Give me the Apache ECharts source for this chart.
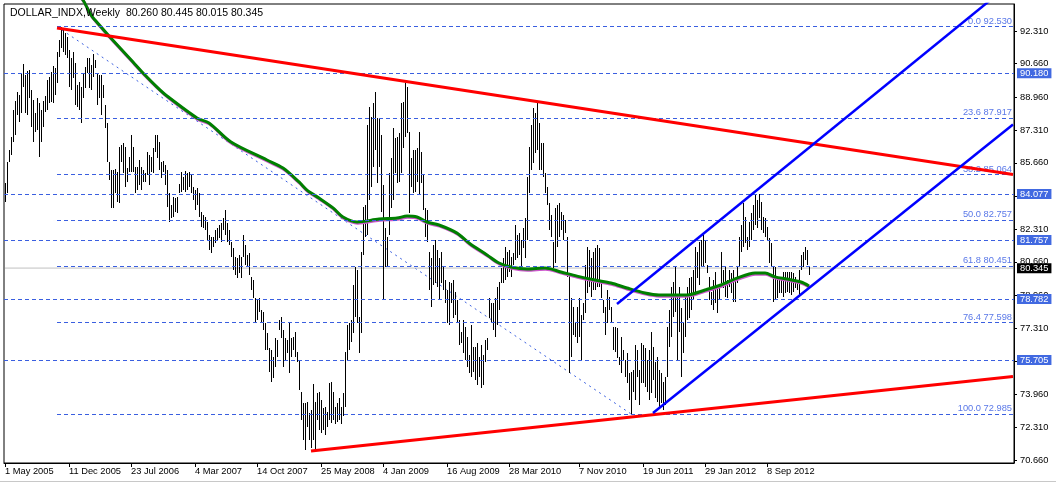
<!DOCTYPE html>
<html><head><meta charset="utf-8">
<script src="https://cdn.jsdelivr.net/npm/echarts@6/dist/echarts.min.js"></script>
<style>html,body{margin:0;padding:0;background:#fff}#c{width:1056px;height:483px}</style>
</head><body><div id="c"></div><script>
// ---- data ----
const symbolName = 'DOLLAR_INDX,Weekly';
const lastOHLC = [80.260, 80.445, 80.015, 80.345];
const dateLabels = ['1 May 2005','11 Dec 2005','23 Jul 2006','4 Mar 2007','14 Oct 2007','25 May 2008','4 Jan 2009','16 Aug 2009','28 Mar 2010','7 Nov 2010','19 Jun 2011','29 Jan 2012','8 Sep 2012'];
const dateLabelBars = [0,32,63,95,126,158,189,221,252,287,319,350,381];
const yTickValues = [92.310,90.660,88.960,87.310,85.660,83.960,82.310,80.660,78.960,77.310,75.660,73.960,72.310,70.660];
const barHigh = [
84.62,85.72,86.30,86.98,88.32,88.78,89.21,89.08,90.12,90.63,
90.09,90.29,90.34,89.33,88.83,88.15,88.91,88.66,88.32,88.78,
89.03,89.84,90.01,90.26,90.54,90.46,91.27,91.86,92.53,92.41,
92.19,92.02,91.35,90.93,91.27,90.68,89.58,89.75,89.50,90.17,
90.51,90.93,90.93,90.59,91.13,90.85,90.17,90.09,90.09,89.58,
88.58,87.65,85.72,85.30,85.30,85.35,85.21,86.47,86.56,86.64,
86.47,85.38,85.97,87.06,86.47,85.46,85.46,85.80,85.46,85.30,
85.13,86.22,86.05,85.97,86.39,87.06,87.06,86.72,85.72,85.77,
85.55,85.30,84.12,83.53,83.95,83.86,83.95,84.57,85.21,84.96,
85.24,85.13,85.21,85.04,84.45,84.29,84.37,84.12,83.19,83.02,
82.94,82.69,82.01,81.93,81.93,82.27,82.35,82.52,82.60,82.86,
83.28,82.60,82.27,81.67,81.34,80.92,80.84,81.00,80.92,82.01,
81.51,81.00,81.09,79.91,79.74,78.82,78.73,78.82,78.23,78.15,
77.56,77.05,76.30,76.21,75.87,76.80,76.71,77.73,77.89,77.22,
76.80,76.71,77.56,76.80,76.88,77.13,76.12,75.70,74.11,73.52,
73.52,73.60,73.02,73.18,74.50,73.60,74.02,74.11,73.69,73.27,
73.35,73.10,74.53,74.61,74.11,73.35,73.52,73.80,73.35,74.02,
76.13,77.47,77.56,77.72,79.49,80.42,80.25,77.89,81.17,83.44,
83.53,87.57,88.49,87.99,88.66,89.25,87.90,87.90,87.06,84.54,
82.35,81.93,85.13,85.88,87.40,86.89,86.98,87.14,88.66,88.74,
89.67,89.50,87.23,85.88,86.30,86.30,86.39,87.23,86.22,85.04,
83.36,83.28,81.17,80.84,81.51,81.76,81.26,80.84,81.17,80.42,
79.74,79.24,79.66,79.57,79.74,79.15,78.73,77.72,77.13,77.72,
77.39,76.88,75.96,77.47,76.38,76.38,76.55,75.87,76.46,75.96,
76.71,76.80,78.82,78.57,78.57,78.82,79.41,79.66,80.33,80.84,
81.43,81.17,81.26,80.92,81.09,82.52,82.01,82.10,81.76,82.35,
82.86,84.96,86.47,87.57,88.41,88.15,88.66,87.65,86.64,86.64,
85.13,84.45,83.61,83.02,81.67,83.36,83.53,83.61,83.19,83.02,
82.77,81.93,80.00,78.82,78.40,77.56,78.40,78.82,77.98,78.57,
80.50,81.43,81.26,80.84,81.17,81.34,81.51,81.34,79.74,78.73,
78.40,79.24,78.90,78.40,77.39,77.39,77.30,75.87,76.88,76.21,
75.70,76.04,75.03,75.12,75.20,76.46,76.21,75.20,76.55,76.46,
76.30,75.70,76.21,77.13,76.38,75.62,75.87,75.20,75.03,74.61,
74.87,77.39,78.23,79.41,79.66,80.42,78.90,79.41,78.31,77.64,
78.90,79.41,79.83,79.91,80.25,81.43,81.17,81.68,81.76,82.01,
81.76,80.50,79.91,79.15,79.74,80.16,79.49,79.49,81.17,80.25,
80.42,79.74,80.25,80.08,80.25,79.74,80.42,81.93,82.52,83.61,
82.94,81.93,82.69,83.11,83.53,84.03,83.78,84.10,83.70,82.94,
82.86,82.44,81.85,81.60,80.42,80.42,79.74,79.74,79.83,80.16,
80.16,80.16,80.16,80.16,80.08,79.91,79.74,80.25,81.00,81.17,
81.43,81.26,80.445];
const barLow = [
83.70,84.12,85.72,86.05,86.72,87.06,88.07,87.73,88.15,89.50,
88.15,88.07,88.91,87.48,86.72,87.23,87.31,85.97,86.72,87.48,
88.24,88.32,88.66,88.74,88.66,89.08,89.67,91.01,91.43,91.27,
91.10,90.93,89.50,89.33,89.92,88.58,88.49,88.32,87.65,88.91,
89.42,90.17,89.42,89.33,90.01,90.43,88.58,88.91,88.07,88.91,
87.40,85.72,84.79,83.39,83.39,84.12,83.70,83.61,85.72,85.13,
84.45,84.71,85.21,85.21,85.21,84.12,84.29,84.54,84.29,84.71,
84.71,85.04,84.54,85.21,85.13,86.22,85.88,85.30,84.87,85.21,
84.54,83.44,82.69,82.86,82.94,83.19,83.11,84.12,84.20,84.29,
84.20,84.29,84.45,84.12,83.78,83.28,83.53,82.94,82.43,82.35,
82.27,81.76,81.26,81.09,81.43,81.59,81.76,81.85,81.67,82.27,
82.01,81.67,81.51,80.92,80.25,80.00,79.83,80.08,79.83,80.92,
80.50,80.42,80.00,79.24,78.82,77.56,77.73,78.15,77.56,77.22,
76.21,76.21,75.12,74.61,74.78,75.37,75.87,77.22,76.80,75.37,
75.70,76.04,75.03,75.87,76.21,75.87,75.62,74.19,72.68,71.67,
71.16,72.34,71.67,71.25,71.67,71.08,72.68,72.17,72.00,72.17,
71.92,72.34,72.68,72.51,72.68,72.50,72.60,72.70,72.50,72.90,
73.35,75.71,76.21,76.63,77.05,77.89,77.56,76.04,77.05,81.01,
81.93,82.01,83.78,84.45,85.46,86.30,84.62,85.46,83.19,78.73,
80.42,80.42,82.01,83.36,83.78,85.13,84.62,84.71,85.13,86.39,
86.98,87.14,83.11,84.45,84.12,84.20,84.71,84.03,84.62,83.28,
81.93,81.68,79.24,78.40,79.49,79.57,79.41,78.73,79.57,79.24,
78.57,77.56,77.47,78.57,77.81,77.98,77.56,76.46,76.55,76.04,
75.71,75.37,75.03,74.86,75.12,74.70,74.44,74.86,74.28,74.44,
75.62,76.21,77.81,77.56,77.22,76.88,77.47,78.23,79.58,79.58,
79.74,79.91,80.16,79.91,80.50,80.75,80.84,81.00,80.42,81.34,
80.84,81.76,84.12,85.29,85.63,86.14,86.30,85.29,85.29,84.96,
84.12,83.53,82.27,81.93,80.33,80.58,81.43,81.93,82.27,81.76,
82.10,79.91,75.03,75.87,76.97,76.88,76.55,76.88,75.71,77.72,
78.06,79.07,79.41,78.90,79.24,79.24,79.41,79.41,78.82,78.06,
76.97,77.56,78.23,77.56,76.21,76.12,75.79,75.45,75.03,75.70,
74.86,74.53,73.69,72.99,74.11,73.69,74.86,73.43,74.53,74.53,
74.36,74.11,73.69,74.02,74.70,73.77,73.60,73.27,73.52,73.18,
73.44,74.87,76.38,76.88,77.89,78.15,75.71,77.14,74.87,76.04,
76.88,77.72,77.81,78.23,78.73,78.99,79.83,79.49,80.42,80.42,
80.58,80.08,78.73,78.48,78.23,78.57,78.06,78.73,79.58,79.32,
78.90,78.82,79.41,79.07,78.65,78.65,79.58,80.42,81.17,81.43,
81.59,81.26,81.43,81.76,82.27,82.52,82.35,82.86,82.27,82.10,
81.93,81.76,80.58,80.42,78.65,78.73,78.82,79.07,79.07,78.90,
79.07,79.15,79.07,78.99,79.15,79.32,79.24,78.90,80.25,80.42,
80.75,80.50,80.015];
// moving average read at sample bars: [bar index, value]
const maPoints = [[37,94.10],[39,93.87],[43,93.12],[45,92.86],[52,92.06],[64,90.74],[69,90.19],[76,89.48],[81,89.03],[96,87.92],[102,87.67],[113,86.71],[131,85.80],[139,85.39],[147,84.69],[151,84.28],[157,83.88],[164,83.38],[169,82.92],[176,82.67],[187,82.82],[196,82.87],[201,82.97],[206,82.92],[211,82.67],[217,82.52],[226,82.11],[232,81.61],[241,81.01],[247,80.60],[253,80.40],[261,80.30],[270,80.35],[278,80.15],[286,79.94],[295,79.74],[303,79.59],[311,79.34],[320,79.09],[327,78.99],[341,78.99],[350,79.24],[358,79.49],[366,79.84],[375,80.10],[380,80.10],[385,79.90],[391,79.79],[398,79.64],[402,79.44]];
const fibRatios = ['0.0','23.6','38.2','50.0','61.8','76.4','100.0'];
const fibPrices = [92.530,87.917,85.064,82.757,80.451,77.598,72.985];
const fibAnchor = [[26,92.530],[313,72.985]];
const levelPrices = [90.180,84.077,81.757,78.782,75.705];
const redUpper = [[26,92.46],[504,85.07]];
const redLower = [[153,71.11],[504,74.87]];
const blueLower = [[324,73.03],[504,87.59]];
const blueUpper = [[306,78.53],[504,94.80]];
const SLOTS = 505;

// ---- chart ----
const FONT = '"Liberation Sans", Arial, sans-serif';
const FS = 9.3;
const cats = Array.from({length: SLOTS}, (_, i) => String(i));
const bars = barHigh.map((h, i) => [i, h, barLow[i]]);
const showLabel = (i) => dateLabelBars.indexOf(i) >= 0;

const chart = echarts.init(document.getElementById('c'), null, {renderer: 'canvas'});
const fibLineData = fibPrices.map((p, k) => [
  {coord: [fibAnchor[0][0], p], label: {formatter: fibRatios[k] + ' ' + p.toFixed(3)}},
  {coord: [SLOTS - 1, p]}
]);
const levelData = levelPrices.map(p => ({yAxis: p, label: {formatter: p.toFixed(3)}}));

function trend(data, color, width) {
  return {type: 'line', data: data, symbol: 'none', clip: true, silent: true, animation: false,
    lineStyle: {color: color, width: width}, z: 5};
}

chart.setOption({
  backgroundColor: '#fff',
  animation: false,
  title: {text: symbolName + '  ' + lastOHLC.map(v => v.toFixed(3)).join(' '), left: 5, top: 3,
    textStyle: {fontFamily: FONT, fontSize: 10.5, fontWeight: 'normal', color: '#000'}},
  grid: {left: 4, right: 42, top: 4, bottom: 20, show: true, borderColor: '#000', borderWidth: 1, backgroundColor: 'transparent'},
  xAxis: {type: 'category', data: cats, boundaryGap: true,
    axisLine: {lineStyle: {color: '#000', width: 1}},
    axisTick: {show: true, alignWithLabel: true, interval: (i) => showLabel(i), length: 4, lineStyle: {color: '#000'}},
    axisLabel: {interval: (i) => showLabel(i),
      formatter: (v) => { const k = dateLabelBars.indexOf(Number(v)); return k >= 0 ? dateLabels[k] : ''; },
      align: 'left', margin: 4, color: '#000', fontFamily: FONT, fontSize: FS},
    splitLine: {show: false}},
  yAxis: {type: 'value', position: 'right', min: 70.508, max: 93.672, scale: true,
    axisLine: {show: true, lineStyle: {color: '#000', width: 1}},
    axisTick: {show: true, length: 3, customValues: yTickValues, lineStyle: {color: '#000'}},
    axisLabel: {customValues: yTickValues, formatter: v => v.toFixed(3), margin: 6, color: '#000', fontFamily: FONT, fontSize: FS},
    splitLine: {show: false}},
  graphic: [{type: 'line', shape: {x1: 0, y1: 481.5, x2: 1056, y2: 481.5}, style: {stroke: '#c8c8c8', lineWidth: 1}}],
  series: [
    {type: 'line', name: 'fib-diag', data: fibAnchor, symbol: 'none', silent: true, z: 1,
      lineStyle: {color: '#3a5fe0', width: 1, type: [2, 4]},
      markLine: {symbol: 'none', silent: true, animation: false,
        lineStyle: {color: '#3a5fe0', width: 1, type: [4, 3]},
        label: {position: 'insideEndTop', distance: [1, 1], color: '#5a78e8', fontFamily: FONT, fontSize: FS},
        data: fibLineData}},
    {type: 'line', name: 'levels', data: [[0, lastOHLC[3]], [SLOTS - 1, lastOHLC[3]]], symbol: 'none', silent: true, z: 1,
      lineStyle: {color: '#c0c0c0', width: 1},
      markLine: {symbol: 'none', silent: true, animation: false,
        lineStyle: {color: '#3a5fe0', width: 1, type: [4, 3]},
        label: {position: 'end', distance: 3, color: '#fff', backgroundColor: '#4169e1', padding: [1, 3, 0, 3],
          fontFamily: FONT, fontSize: FS},
        data: levelData.concat([{yAxis: lastOHLC[3], lineStyle: {color: 'rgba(0,0,0,0)'},
          label: {formatter: lastOHLC[3].toFixed(3), backgroundColor: '#000', color: '#fff'}}])}},
    {type: 'custom', name: 'bars', data: bars, silent: true, z: 2, clip: true,
      encode: {x: 0, y: [1, 2]},
      renderItem: function (params, api) {
        const i = api.value(0);
        const top = api.coord([i, api.value(1)]);
        const bot = api.coord([i, api.value(2)]);
        const x = Math.floor(top[0]);
        const y1 = Math.round(top[1]);
        const y2 = Math.round(bot[1]);
        return {type: 'rect', shape: {x: x, y: y1, width: 1, height: Math.max(1, y2 - y1)}, style: {fill: '#000'}};
      }},
    {type: 'line', name: 'MA', data: maPoints, symbol: 'none', smooth: 0.3, clip: false, silent: true, z: 4,
      lineStyle: {color: '#008000', width: 3, shadowColor: '#cc55cc', shadowBlur: 0, shadowOffsetX: 0.6, shadowOffsetY: 1.2}},
    trend(redUpper, '#ff0000', 3),
    trend(redLower, '#ff0000', 3),
    trend(blueLower, '#0000ff', 2.5),
    trend(blueUpper, '#0000ff', 2.5)
  ]
});
</script></body></html>
